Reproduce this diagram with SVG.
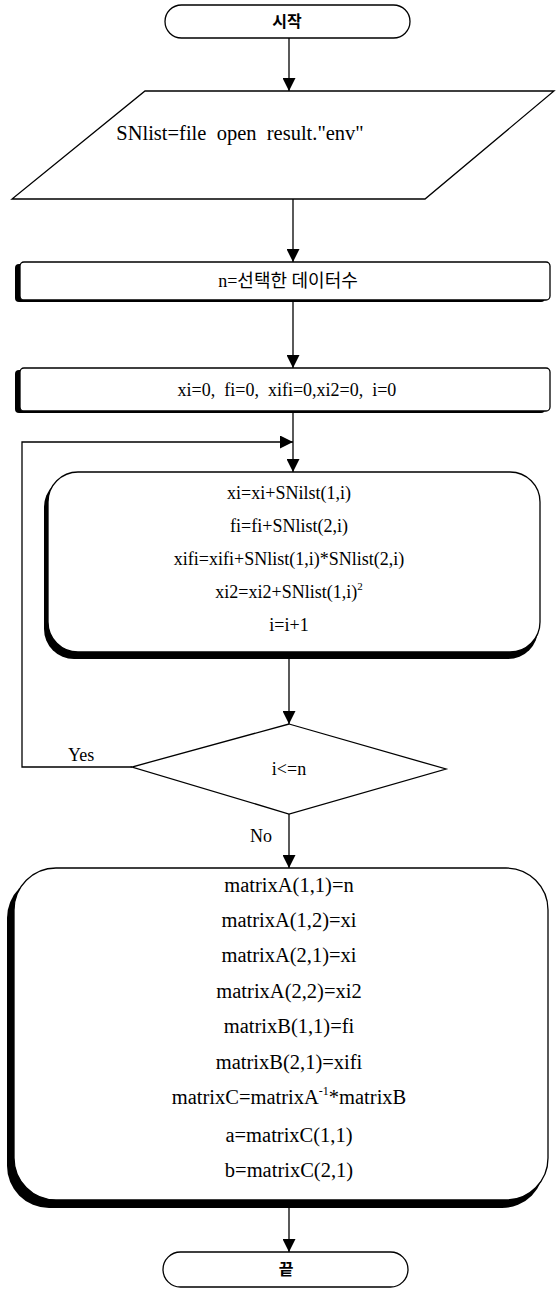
<svg xmlns="http://www.w3.org/2000/svg" width="558" height="1290" viewBox="0 0 558 1290">
<defs>
<style>
.ln{fill:none;stroke:#000;stroke-width:1.3}
.box{fill:#fff;stroke:#000;stroke-width:1.3}
.sh{fill:#000;stroke:none}
.t{font-family:"Liberation Serif","Noto Sans CJK KR",serif;font-size:18px;fill:#000;text-anchor:middle;white-space:pre}
.m{font-size:20.5px}
.k{font-family:"Noto Sans CJK KR","Liberation Serif",sans-serif;font-size:16px;font-weight:bold;fill:#000;text-anchor:middle}
.lab{font-family:"Liberation Serif",serif;font-size:18px;fill:#000}
</style>
<marker id="ah" viewBox="0 0 10 10" refX="10" refY="5" markerWidth="13" markerHeight="13" markerUnits="userSpaceOnUse" orient="auto">
<path d="M0,0 L10,5 L0,10 z" fill="#000"/>
</marker>
</defs>
<rect width="558" height="1290" fill="#fff"/>

<g id="connectors">
<line class="ln" x1="289" y1="38" x2="289" y2="91" marker-end="url(#ah)"/>
<line class="ln" x1="293" y1="199" x2="293" y2="262" marker-end="url(#ah)"/>
<line class="ln" x1="293" y1="300" x2="293" y2="368" marker-end="url(#ah)"/>
<line class="ln" x1="293" y1="411" x2="293" y2="472" marker-end="url(#ah)"/>
<polyline class="ln" points="132,767 22,767 22,442 293,442" marker-end="url(#ah)"/>
<line class="ln" x1="289" y1="654" x2="289" y2="724" marker-end="url(#ah)"/>
<line class="ln" x1="289" y1="814" x2="289" y2="868" marker-end="url(#ah)"/>
<line class="ln" x1="289" y1="1203" x2="289" y2="1252" marker-end="url(#ah)"/>
<text class="lab" x="68" y="761">Yes</text>
<text class="lab" x="250" y="842">No</text>
</g>

<g id="start">
<rect class="box" x="165" y="5" width="245" height="33" rx="16.5"/>
<text class="k" x="287" y="27">시작</text>
</g>

<g id="input">
<polygon class="box" points="145,91 554,91 425,199 12,199"/>
<text class="t m" x="240" y="140">SNlist=file  open  result."env"</text>
</g>

<g id="setN">
<rect class="sh" x="15" y="264" width="530" height="38" rx="4"/>
<rect class="box" x="20" y="262" width="530" height="38" rx="4"/>
<text class="t" x="288" y="287">n=선택한 데이터수</text>
</g>

<g id="init">
<rect class="sh" x="15" y="370" width="530" height="43" rx="4"/>
<rect class="box" x="20" y="368" width="530" height="43" rx="4"/>
<text class="t" x="287" y="396">xi=0,  fi=0,  xifi=0,xi2=0,  i=0</text>
</g>

<g id="accumulate">
<rect class="sh" x="44" y="477" width="494" height="182" rx="30"/>
<rect class="box" x="48" y="472" width="492" height="180" rx="30"/>
<text class="t" x="289" y="499">xi=xi+SNilst(1,i)</text>
<text class="t" x="289" y="532">fi=fi+SNlist(2,i)</text>
<text class="t" x="289" y="565">xifi=xifi+SNlist(1,i)*SNlist(2,i)</text>
<text class="t" x="289" y="598">xi2=xi2+SNlist(1,i)<tspan font-size="11" dy="-8">2</tspan></text>
<text class="t" x="289" y="631">i=i+1</text>
</g>

<g id="decision">
<polygon class="box" points="289,724 446,769 289,814 132,767"/>
<text class="t" x="289" y="775">i&lt;=n</text>
</g>

<g id="compute">
<rect class="sh" x="7" y="876" width="537" height="332" rx="42"/>
<rect class="box" x="14" y="868" width="534" height="332" rx="42"/>
<text class="t m" x="289" y="892">matrixA(1,1)=n</text>
<text class="t m" x="289" y="927">matrixA(1,2)=xi</text>
<text class="t m" x="289" y="962">matrixA(2,1)=xi</text>
<text class="t m" x="289" y="998">matrixA(2,2)=xi2</text>
<text class="t m" x="289" y="1033">matrixB(1,1)=fi</text>
<text class="t m" x="289" y="1069">matrixB(2,1)=xifi</text>
<text class="t m" x="289" y="1104">matrixC=matrixA<tspan font-size="12" dy="-9">-1</tspan><tspan dy="9">*matrixB</tspan></text>
<text class="t m" x="289" y="1142">a=matrixC(1,1)</text>
<text class="t m" x="289" y="1177">b=matrixC(2,1)</text>
</g>

<g id="end">
<rect class="box" x="163" y="1252" width="245" height="35" rx="17.5"/>
<text class="k" x="286" y="1275">끝</text>
</g>
</svg>
